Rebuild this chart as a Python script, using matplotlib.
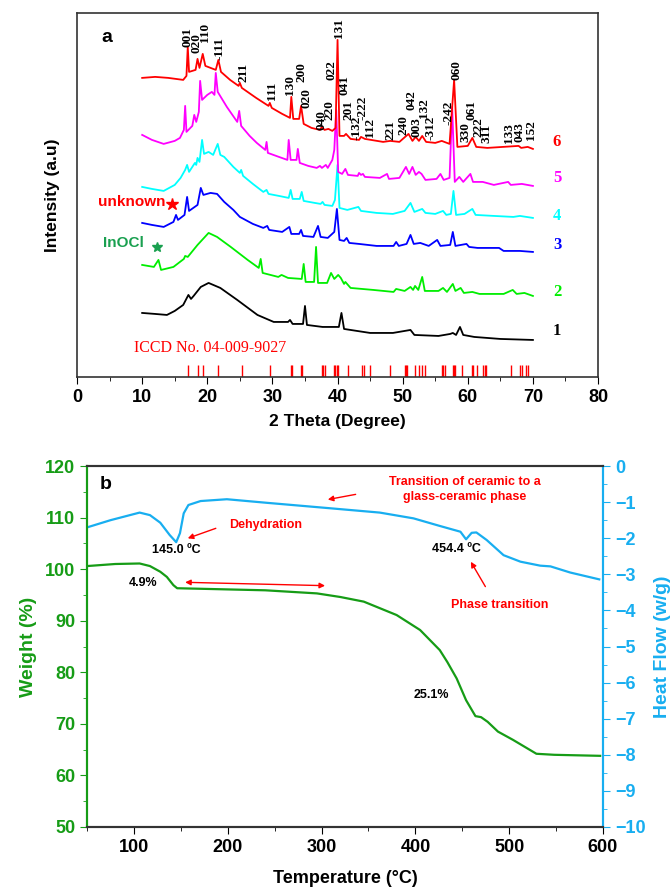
import numpy as np
import matplotlib
matplotlib.use("Agg")
import matplotlib.pyplot as plt
from matplotlib.ticker import MultipleLocator

plt.rcParams['font.family'] = ['Liberation Sans', 'DejaVu Sans']
plt.rcParams['font.weight'] = 'bold'

# ---- panel a : XRD patterns (stacked, arbitrary units) ----
th6 = [10.0, 12.0, 14.0, 16.3, 16.8, 17.0, 17.2, 18.2, 18.5, 18.8, 19.3, 19.7, 20.5, 21.3, 21.7, 22.1,
       23.5, 24.8, 25.0, 25.3, 27.5, 29.4, 29.6, 29.9, 31.5, 32.7, 32.9, 33.2, 34.1, 34.4, 34.8, 36.0,
       37.3, 37.6, 38.0, 38.6, 39.2, 39.7, 40.0, 40.3, 41.0, 41.3, 42.0, 43.3, 43.6, 44.2, 47.0, 48.1,
       49.5, 50.9, 51.5, 52.0, 52.5, 53.0, 53.6, 55.0, 56.0, 57.2, 57.9, 58.4, 60.0, 60.7, 61.3, 63.0,
       67.8, 68.2, 69.2, 70.0]
i6 = [299, 300, 299, 297, 301, 330, 305, 307, 318, 309, 323, 311, 309, 307, 317, 305,
      297, 291, 294, 289, 279, 271, 274, 269, 263, 259, 280, 258, 258, 271, 253, 249,
      247, 250, 247, 248, 246, 249, 337, 241, 241, 243, 238, 237, 240, 238, 235, 236,
      235, 243, 236, 240, 236, 241, 235, 234, 236, 233, 297, 230, 231, 239, 230, 229,
      231, 229, 230, 228]

th5 = [10.0, 11.5, 13.3, 15.0, 15.8, 16.4, 16.6, 16.8, 17.7, 18.0, 18.3, 18.7, 18.9, 19.2, 20.0, 20.7,
       21.1, 21.3, 21.6, 23.0, 24.6, 24.9, 25.2, 26.5, 27.6, 28.9, 29.1, 29.3, 31.0, 32.3, 32.5, 32.8,
       33.7, 33.9, 34.2, 35.5, 36.8, 37.3, 37.6, 38.2, 38.5, 39.2, 39.5, 39.8, 40.1, 40.7, 41.2, 41.6,
       43.1, 43.3, 43.6, 43.9, 44.2, 46.5, 47.6, 47.9, 49.5, 50.5, 51.0, 51.5, 52.0, 52.5, 52.9, 53.5,
       55.2, 55.8, 56.3, 57.2, 57.6, 58.0, 58.7, 59.3, 60.4, 60.8, 62.3, 64.0, 66.2, 66.6, 68.3, 70.0]
i5 = [242, 237, 233, 236, 239, 247, 271, 245, 251, 262, 255, 265, 296, 277, 282, 285,
      282, 304, 285, 270, 255, 266, 251, 241, 234, 227, 235, 224, 220, 217, 237, 217,
      217, 228, 214, 211, 209, 211, 209, 212, 209, 217, 227, 267, 205, 203, 208, 202,
      201, 204, 202, 203, 200, 199, 203, 198, 199, 210, 203, 210, 202, 205, 203, 197,
      198, 203, 197, 199, 270, 195, 200, 195, 203, 195, 195, 192, 195, 192, 193, 191]

th4 = [10.0, 11.5, 13.3, 15.0, 15.9, 16.6, 16.9, 17.2, 17.8, 18.1, 18.3, 18.5, 18.8, 19.2, 19.5, 20.2,
       20.9, 21.6, 22.0, 22.6, 24.0, 25.0, 25.2, 25.5, 27.0, 28.6, 29.1, 29.4, 31.0, 32.5, 32.8, 33.1,
       34.2, 34.5, 34.8, 36.5, 37.4, 37.7, 38.0, 39.2, 39.6, 40.0, 40.3, 41.5, 43.2, 43.6, 46.0, 48.5,
       50.3, 51.2, 51.8, 53.0, 53.5, 55.0, 56.2, 56.7, 57.4, 57.8, 58.2, 59.5, 60.7, 61.2, 64.0, 67.0,
       68.0, 70.0]
i4 = [190, 188, 186, 192, 199, 207, 212, 205, 211, 214, 212, 219, 215, 237, 223, 225,
      222, 233, 222, 220, 210, 204, 207, 201, 193, 185, 187, 183, 181, 179, 187, 178,
      178, 185, 176, 174, 173, 175, 172, 171, 177, 212, 169, 167, 170, 166, 164, 163,
      166, 174, 165, 168, 164, 163, 166, 162, 163, 186, 162, 163, 168, 162, 161, 160,
      161, 159]

th3 = [10.0, 11.5, 13.3, 14.8, 15.2, 15.5, 16.5, 16.9, 17.2, 18.5, 19.0, 19.4, 20.5, 21.5, 22.6, 24.0,
       25.0, 27.0, 28.6, 29.2, 29.5, 31.5, 32.6, 32.9, 34.1, 34.4, 34.7, 36.3, 37.0, 37.4, 38.5, 39.5,
       39.9, 40.3, 41.0, 41.4, 41.8, 43.3, 46.0, 48.6, 49.0, 49.4, 50.6, 51.2, 51.7, 52.7, 54.0, 55.3,
       55.8, 57.3, 57.7, 58.1, 59.8, 60.2, 61.5, 64.8, 65.5, 68.0, 70.0]
i3 = [154, 152, 150, 155, 162, 157, 162, 180, 166, 172, 189, 182, 184, 183, 175, 167,
      160, 153, 149, 151, 147, 145, 150, 143, 143, 147, 141, 140, 151, 140, 139, 145,
      168, 137, 136, 139, 134, 133, 131, 131, 135, 131, 133, 142, 133, 134, 131, 137,
      131, 132, 145, 131, 133, 130, 129, 129, 126, 126, 125]

th2 = [10.0, 11.8, 12.5, 12.9, 14.8, 16.4, 16.6, 17.0, 18.5, 20.2, 21.5, 23.6, 26.2, 27.9, 28.2, 28.5,
       30.9, 31.4, 32.4, 34.5, 34.8, 35.1, 36.4, 36.7, 37.0, 38.4, 39.0, 39.5, 40.1, 40.5, 41.0, 41.2,
       42.0, 45.5, 48.6, 49.0, 50.3, 51.2, 51.6, 51.9, 52.4, 53.0, 53.4, 55.5, 56.2, 56.8, 57.7, 58.1,
       58.9, 59.4, 60.7, 61.8, 65.5, 66.9, 67.5, 68.7, 70.0]
i2 = [112, 110, 117, 107, 110, 118, 121, 120, 132, 144, 140, 130, 117, 109, 118, 104,
      100, 102, 99, 98, 113, 95, 95, 130, 94, 94, 104, 98, 102, 99, 93, 95,
      89, 87, 85, 88, 86, 90, 87, 91, 87, 100, 86, 86, 89, 85, 93, 86,
      89, 84, 85, 83, 83, 87, 83, 84, 81]

th1 = [10.0, 12.0, 13.8, 15.0, 16.3, 17.1, 17.5, 17.9, 19.0, 20.2, 22.0, 24.6, 27.7, 30.2, 32.4, 32.7,
       33.1, 34.7, 35.0, 35.3, 37.7, 40.2, 40.6, 41.0, 43.0, 45.0, 48.5, 51.2, 51.8, 55.5, 57.3, 57.7,
       58.2, 58.8, 59.3, 61.0, 65.0, 70.0]
i1 = [64, 63, 62, 66, 72, 82, 78, 81, 90, 94, 89, 77, 62, 55, 55, 57,
      53, 53, 71, 52, 50, 50, 64, 48, 46, 44, 44, 47, 42, 41, 43, 44,
      42, 50, 42, 40, 38, 37]

xrd_colors = ['black', '#00ee00', 'blue', 'cyan', 'magenta', 'red']
xrd_names = ['1', '2', '3', '4', '5', '6']
xrd_label_y = [46, 85, 132, 161, 199, 235]

iccd_pos = [17.1, 18.5, 19.3, 21.7, 25.3, 29.6, 32.8, 33.0, 34.4, 34.5, 37.6, 37.8, 38.0, 39.4, 39.6,
            39.9, 40.05, 41.6, 43.7, 44.1, 45.0, 48.0, 50.3, 50.5, 50.7, 51.9, 52.5, 53.0, 53.5, 56.0,
            56.2, 56.5, 57.7, 57.9, 58.1, 59.1, 60.6, 60.8, 61.4, 62.3, 62.6, 62.8, 66.6, 68.0, 68.4,
            68.9, 69.2]

hkl_text = ['001', '020', '110', '-111', '211', '111', '130', '200', '020', '040', '220', '022', '131',
            '041', '201', '-132', '-222', '112', '221', '240', '042', '003', '132', '-312', '-242',
            '060', '330', '061', '222', '311', '133', '043', '152']
hkl_x = [16.9, 18.4, 19.7, 21.8, 25.6, 29.9, 32.7, 34.5, 35.3, 37.6, 38.8, 39.1, 40.3,
         41.1, 41.7, 42.9, 43.9, 45.0, 48.1, 50.2, 51.4, 52.1, 53.2, 54.2, 57.0,
         58.3, 59.6, 60.5, 61.6, 62.8, 66.3, 68.0, 69.7]
hkl_y = [330, 324, 335, 317, 295, 277, 282, 295, 269, 247, 257, 297, 339,
         282, 257, 237, 257, 240, 237, 242, 267, 240, 259, 237, 252,
         297, 235, 257, 240, 234, 234, 235, 237]

# ---- panel b : TGA / DSC ----
temp_w = [50, 80, 106, 117, 128, 135, 142, 146, 170, 240, 295, 320, 345, 380, 405, 426, 434, 444,
          454, 464, 470, 477, 488, 504, 529, 548, 597]
weight = [100.6, 101.0, 101.1, 100.6, 99.5, 98.5, 96.9, 96.3, 96.2, 95.9, 95.3, 94.6, 93.7, 91.1,
          88.2, 84.3, 82.0, 78.8, 74.6, 71.5, 71.3, 70.4, 68.5, 66.9, 64.2, 64.0, 63.8]
temp_h = [50, 75, 106, 117, 128, 138, 145, 149, 153, 158, 171, 199, 242, 309, 362, 398, 426, 448,
          454, 460, 465, 476, 494, 512, 533, 544, 565, 596]
heat = [-1.70, -1.50, -1.29, -1.36, -1.57, -1.91, -2.11, -1.86, -1.31, -1.08, -0.97, -0.92, -1.02,
        -1.17, -1.29, -1.45, -1.66, -1.82, -2.03, -1.85, -1.84, -2.05, -2.47, -2.65, -2.76, -2.78,
        -2.95, -3.14]

GREEN = '#169c16'
LBLUE = '#18aef0'

fig = plt.figure(figsize=(6.7, 8.88), dpi=100)

# panel a
ax = fig.add_axes([0.115, 0.5755, 0.7776, 0.41])
series = [(th1, i1), (th2, i2), (th3, i3), (th4, i4), (th5, i5), (th6, i6)]
for (t, v), c, name, ly in zip(series, xrd_colors, xrd_names, xrd_label_y):
    ax.plot(t, v, color=c, lw=1.3)
    ax.text(73.7, ly, name, color=c, fontsize=12, fontweight='bold',
            family='Liberation Serif', ha='center', va='center')
ax.vlines(iccd_pos, 0, 12, color='red', lw=1)
ax.text(8.75, 29, 'ICCD No. 04-009-9027', color='red', fontsize=11.5,
        family='Liberation Serif', fontweight='normal', va='center')
for s, x, y in zip(hkl_text, hkl_x, hkl_y):
    ax.text(x, y, s, rotation=90, ha='center', va='bottom', fontsize=9.5,
            family='Liberation Serif', fontweight='bold')
ax.text(3.2, 175, 'unknown', color='red', fontsize=11, fontweight='bold', va='center')
ax.plot(14.6, 173, marker='*', color='red', ms=9, ls='none')
ax.text(4.0, 134, 'InOCl', color='#1aa050', fontsize=11, fontweight='bold', va='center')
ax.plot(12.3, 130, marker='*', color='#1aa050', ms=7, ls='none')
ax.text(3.8, 339, 'a', fontsize=14, fontweight='bold', va='center')
ax.set_xlim(0, 80)
ax.set_ylim(0, 364)
ax.set_yticks([])
ax.xaxis.set_major_locator(MultipleLocator(10))
ax.xaxis.set_minor_locator(MultipleLocator(5))
ax.tick_params(axis='x', which='major', direction='out', length=5, labelsize=13)
ax.tick_params(axis='x', which='minor', direction='out', length=3)
ax.set_xlabel('2 Theta (Degree)', fontsize=12.5, fontweight='bold', labelpad=6)
ax.set_ylabel('Intensity (a.u)', fontsize=12.5, fontweight='bold', labelpad=12)
for sp in ax.spines.values():
    sp.set_linewidth(1.2)
    sp.set_color('#333333')

# panel b
bx = fig.add_axes([0.13, 0.0687, 0.77, 0.4065])
hx = bx.twinx()
bx.plot(temp_w, weight, color=GREEN, lw=1.6)
hx.plot(temp_h, heat, color=LBLUE, lw=1.6)
bx.set_xlim(50, 600)
bx.set_ylim(50, 120)
hx.set_ylim(-10, 0)
bx.xaxis.set_major_locator(MultipleLocator(100))
bx.xaxis.set_minor_locator(MultipleLocator(50))
bx.yaxis.set_major_locator(MultipleLocator(10))
bx.yaxis.set_minor_locator(MultipleLocator(5))
hx.yaxis.set_major_locator(MultipleLocator(1))
hx.yaxis.set_minor_locator(MultipleLocator(0.5))
bx.tick_params(axis='x', which='major', length=5, labelsize=13)
bx.tick_params(axis='x', which='minor', length=3)
bx.tick_params(axis='y', which='major', length=5, labelsize=13, colors=GREEN)
bx.tick_params(axis='y', which='minor', length=3, colors=GREEN)
hx.tick_params(axis='y', which='major', length=5, labelsize=13, colors=LBLUE)
hx.tick_params(axis='y', which='minor', length=3, colors=LBLUE)
bx.set_xlabel('Temperature (°C)', fontsize=13, fontweight='bold', labelpad=10)
bx.set_ylabel('Weight (%)', fontsize=14, fontweight='bold', color=GREEN, labelpad=6)
hx.set_ylabel('Heat Flow (w/g)', fontsize=14, fontweight='bold', color=LBLUE, labelpad=6)
for a in (bx, hx):
    a.spines['left'].set_color(GREEN)
    a.spines['right'].set_color(LBLUE)
    a.spines['top'].set_color('#333333')
    a.spines['bottom'].set_color('#333333')
    for sp in a.spines.values():
        sp.set_linewidth(1.5)

bx.text(63.9, 116.5, 'b', fontsize=14, fontweight='bold', va='center')
bx.text(239.8, 108.6, 'Dehydration', color='red', fontsize=9, fontweight='bold', ha='center', va='center')
bx.annotate('', xy=(154.5, 105.8), xytext=(190, 108.1),
            arrowprops=dict(arrowstyle='-|>', color='red', lw=1, mutation_scale=8))
bx.text(145.6, 103.8, '145.0 ºC', fontsize=9, fontweight='bold', ha='center', va='center')
bx.text(109.4, 97.4, '4.9%', fontsize=9, fontweight='bold', ha='center', va='center')
bx.annotate('', xy=(303.7, 96.8), xytext=(154.5, 97.45),
            arrowprops=dict(arrowstyle='<|-|>', color='red', lw=1, mutation_scale=8,
                            shrinkA=0, shrinkB=0))
bx.text(453, 115.4, 'Transition of ceramic to a\nglass-ceramic phase', color='red', fontsize=9,
        fontweight='bold', ha='center', va='center', linespacing=1.3)
bx.annotate('', xy=(303.7, 113.4), xytext=(339.2, 114.6),
            arrowprops=dict(arrowstyle='-|>', color='red', lw=1, mutation_scale=8))
bx.text(444, 104.0, '454.4 ºC', fontsize=9, fontweight='bold', ha='center', va='center')
bx.text(490.3, 93.05, 'Phase transition', color='red', fontsize=9, fontweight='bold',
        ha='center', va='center')
bx.annotate('', xy=(457.6, 101.9), xytext=(476.1, 96.15),
            arrowprops=dict(arrowstyle='-|>', color='red', lw=1, mutation_scale=8))
bx.text(417.4, 75.6, '25.1%', fontsize=9, fontweight='bold', ha='center', va='center')

fig.savefig('out.png', dpi=100)
